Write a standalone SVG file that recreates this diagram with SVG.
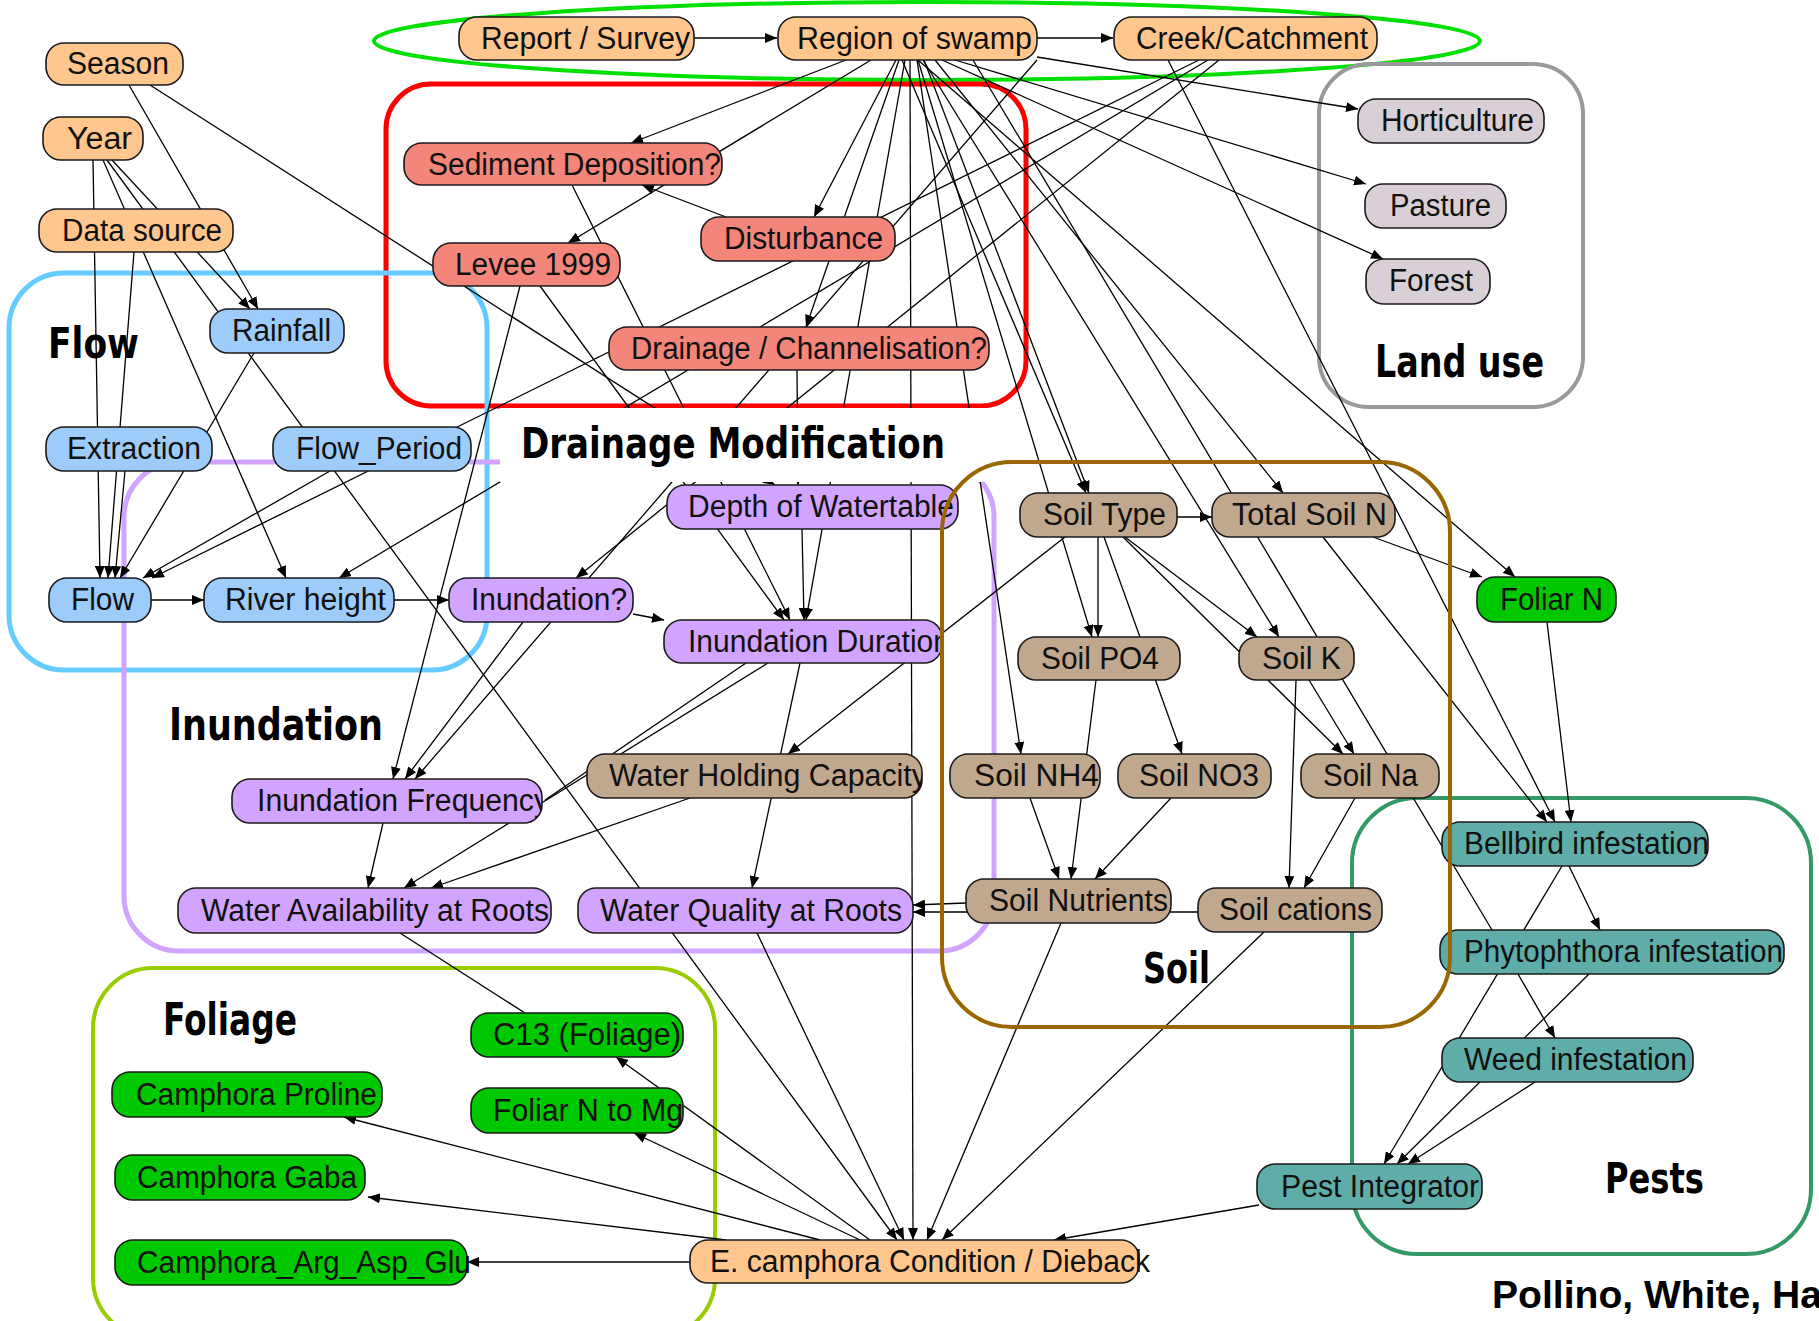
<svg xmlns="http://www.w3.org/2000/svg" width="1819" height="1321" viewBox="0 0 1819 1321">
<style>
.bg{fill:#ffffff}
.nd rect{stroke:#1a1a1a;stroke-width:1.6}
.nd text{font-family:"Liberation Sans",Arial,sans-serif;font-size:31px;fill:#111}
.or rect{fill:#FFC68E}
.rd rect{fill:#F3857A}
.bl rect{fill:#9DCBFA}
.pu rect{fill:#D0A4FF}
.br rect{fill:#BFA88E}
.gr rect{fill:#00C800}
.te rect{fill:#5FADA9}
.lu rect{fill:#D8D0D6}
.e line{stroke:#000;stroke-width:1.3;fill:none}
.grp{fill:none}
.lbl{font-family:"DejaVu Sans Condensed","DejaVu Sans",sans-serif;font-weight:bold;fill:#000}
.cap{font-family:"Liberation Sans",Arial,sans-serif;font-weight:bold;font-size:38px;fill:#000}
</style>
<defs>
<marker id="ar" markerUnits="userSpaceOnUse" markerWidth="12" markerHeight="10" refX="12" refY="5" orient="auto">
<path d="M0,0 L12,5 L0,10 z" fill="#000"/>
</marker>
<clipPath id="cID"><rect x="664" y="620" width="278" height="43" rx="18"/></clipPath>
<clipPath id="cIF"><rect x="232" y="779" width="310" height="44" rx="18"/></clipPath>
<clipPath id="cWH"><rect x="587" y="754" width="335" height="44" rx="18"/></clipPath>
</defs>
<rect class="bg" x="0" y="0" width="1819" height="1321"/>

<g id="groups">
<ellipse class="grp" cx="927" cy="41" rx="553" ry="39" stroke="#00E000" stroke-width="4"/>
<rect class="grp" x="386" y="84" width="640" height="322" rx="45" stroke="#FF0000" stroke-width="5"/>
<rect class="grp" x="9" y="273" width="478" height="397" rx="55" stroke="#66CCFF" stroke-width="5"/>
<rect class="grp" x="124" y="462" width="870" height="489" rx="55" stroke="#D0A4FF" stroke-width="5"/>
<rect class="grp" x="1319" y="64" width="264" height="343" rx="50" stroke="#999999" stroke-width="4"/>
<rect class="grp" x="93" y="968" width="622" height="370" rx="60" stroke="#99CC00" stroke-width="4"/>
<rect class="grp" x="1352" y="798" width="459" height="456" rx="65" stroke="#339966" stroke-width="4"/>
</g>

<g id="connectors" class="e">
<line x1="694" y1="38" x2="777" y2="38" marker-end="url(#ar)"/>
<line x1="1037" y1="38" x2="1113" y2="38" marker-end="url(#ar)"/>
<line x1="1037" y1="57" x2="1358" y2="109" marker-end="url(#ar)"/>
<line x1="955" y1="60" x2="1366" y2="184" marker-end="url(#ar)"/>
<line x1="942" y1="60" x2="1383" y2="259" marker-end="url(#ar)"/>
<line x1="846" y1="60" x2="631" y2="143" marker-end="url(#ar)"/>
<line x1="871" y1="60" x2="568" y2="243" marker-end="url(#ar)"/>
<line x1="896" y1="60" x2="814" y2="217" marker-end="url(#ar)"/>
<line x1="899" y1="60" x2="806" y2="327" marker-end="url(#ar)"/>
<line x1="905" y1="60" x2="806" y2="620" marker-end="url(#ar)"/>
<line x1="910" y1="60" x2="913" y2="1240" marker-end="url(#ar)"/>
<line x1="917" y1="60" x2="1021" y2="754" marker-end="url(#ar)"/>
<line x1="902" y1="60" x2="1086" y2="493" marker-end="url(#ar)"/>
<line x1="924" y1="60" x2="1089" y2="493" marker-end="url(#ar)"/>
<line x1="918" y1="60" x2="1092" y2="637" marker-end="url(#ar)"/>
<line x1="935" y1="60" x2="1283" y2="493" marker-end="url(#ar)"/>
<line x1="923" y1="60" x2="1279" y2="637" marker-end="url(#ar)"/>
<line x1="973" y1="60" x2="1492" y2="930"/>
<line x1="918" y1="60" x2="1515" y2="577" marker-end="url(#ar)"/>
<line x1="1037" y1="60" x2="415" y2="779" marker-end="url(#ar)"/>
<line x1="1199" y1="60" x2="152" y2="578" marker-end="url(#ar)"/>
<line x1="1208" y1="60" x2="339" y2="578" marker-end="url(#ar)"/>
<line x1="1219" y1="60" x2="576" y2="578" marker-end="url(#ar)"/>
<line x1="1168" y1="60" x2="1555" y2="822" marker-end="url(#ar)"/>
<line x1="726" y1="217" x2="642" y2="185" marker-end="url(#ar)"/>
<line x1="572" y1="185" x2="790" y2="620" marker-end="url(#ar)"/>
<line x1="540" y1="286" x2="784" y2="620" marker-end="url(#ar)"/>
<line x1="520" y1="286" x2="393" y2="779" marker-end="url(#ar)"/>
<line x1="797" y1="370" x2="798" y2="485" marker-end="url(#ar)"/>
<line x1="150" y1="85" x2="775" y2="485" marker-end="url(#ar)"/>
<line x1="129" y1="85" x2="258" y2="309" marker-end="url(#ar)"/>
<line x1="112" y1="160" x2="250" y2="309" marker-end="url(#ar)"/>
<line x1="93" y1="160" x2="100" y2="578" marker-end="url(#ar)"/>
<line x1="103" y1="160" x2="286" y2="578" marker-end="url(#ar)"/>
<line x1="107" y1="160" x2="897" y2="1240" marker-end="url(#ar)"/>
<line x1="134" y1="252" x2="108" y2="578" marker-end="url(#ar)"/>
<line x1="125" y1="471" x2="115" y2="578" marker-end="url(#ar)"/>
<line x1="254" y1="353" x2="120" y2="578" marker-end="url(#ar)"/>
<line x1="330" y1="471" x2="143" y2="578" marker-end="url(#ar)"/>
<line x1="151" y1="600" x2="204" y2="600" marker-end="url(#ar)"/>
<line x1="394" y1="600" x2="449" y2="600" marker-end="url(#ar)"/>
<line x1="633" y1="614" x2="664" y2="620" marker-end="url(#ar)"/>
<line x1="523" y1="622" x2="405" y2="779" marker-end="url(#ar)"/>
<line x1="802" y1="529" x2="804" y2="620" marker-end="url(#ar)"/>
<line x1="1065" y1="537" x2="788" y2="754" marker-end="url(#ar)"/>
<line x1="768" y1="663" x2="404" y2="888" marker-end="url(#ar)"/>
<line x1="746" y1="663" x2="545" y2="800"/>
<line x1="800" y1="663" x2="752" y2="888" marker-end="url(#ar)"/>
<line x1="690" y1="798" x2="431" y2="888" marker-end="url(#ar)"/>
<line x1="383" y1="823" x2="368" y2="888" marker-end="url(#ar)"/>
<line x1="400" y1="933" x2="525" y2="1013"/>
<line x1="757" y1="933" x2="904" y2="1240" marker-end="url(#ar)"/>
<line x1="966" y1="903" x2="913" y2="905" marker-end="url(#ar)"/>
<line x1="1198" y1="912" x2="913" y2="912" marker-end="url(#ar)"/>
<line x1="1061" y1="923" x2="927" y2="1240" marker-end="url(#ar)"/>
<line x1="1264" y1="932" x2="942" y2="1240" marker-end="url(#ar)"/>
<line x1="1259" y1="1205" x2="1054" y2="1240" marker-end="url(#ar)"/>
<line x1="870" y1="1240" x2="616" y2="1057" marker-end="url(#ar)"/>
<line x1="860" y1="1240" x2="634" y2="1133" marker-end="url(#ar)"/>
<line x1="820" y1="1240" x2="344" y2="1117" marker-end="url(#ar)"/>
<line x1="726" y1="1240" x2="368" y2="1197" marker-end="url(#ar)"/>
<line x1="690" y1="1262" x2="467" y2="1262" marker-end="url(#ar)"/>
<line x1="1177" y1="517" x2="1212" y2="517" marker-end="url(#ar)"/>
<line x1="1098" y1="537" x2="1098" y2="637" marker-end="url(#ar)"/>
<line x1="1104" y1="537" x2="1182" y2="754" marker-end="url(#ar)"/>
<line x1="1125" y1="537" x2="1257" y2="637" marker-end="url(#ar)"/>
<line x1="1123" y1="537" x2="1343" y2="754" marker-end="url(#ar)"/>
<line x1="1309" y1="680" x2="1354" y2="754" marker-end="url(#ar)"/>
<line x1="1296" y1="680" x2="1289" y2="888" marker-end="url(#ar)"/>
<line x1="1355" y1="798" x2="1304" y2="888" marker-end="url(#ar)"/>
<line x1="1096" y1="680" x2="1071" y2="879" marker-end="url(#ar)"/>
<line x1="1030" y1="798" x2="1059" y2="879" marker-end="url(#ar)"/>
<line x1="1171" y1="798" x2="1095" y2="879" marker-end="url(#ar)"/>
<line x1="1373" y1="537" x2="1482" y2="577" marker-end="url(#ar)"/>
<line x1="1323" y1="537" x2="1547" y2="822" marker-end="url(#ar)"/>
<line x1="1547" y1="622" x2="1571" y2="822" marker-end="url(#ar)"/>
<line x1="1569" y1="866" x2="1600" y2="930" marker-end="url(#ar)"/>
<line x1="1562" y1="866" x2="1384" y2="1164" marker-end="url(#ar)"/>
<line x1="1518" y1="974" x2="1555" y2="1038" marker-end="url(#ar)"/>
<line x1="1589" y1="974" x2="1397" y2="1164" marker-end="url(#ar)"/>
<line x1="1535" y1="1082" x2="1408" y2="1164" marker-end="url(#ar)"/>
</g>

<rect id="label-mask" x="500" y="408" width="488" height="74" fill="#ffffff"/>

<g id="n-season" class="nd or"><rect x="46" y="43" width="137" height="42" rx="18"/><text x="67" y="74" textLength="102" lengthAdjust="spacingAndGlyphs">Season</text></g>
<g id="n-year" class="nd or"><rect x="43" y="117" width="100" height="43" rx="18"/><text x="67" y="149" textLength="65" lengthAdjust="spacingAndGlyphs">Year</text></g>
<g id="n-datasource" class="nd or"><rect x="39" y="209" width="194" height="43" rx="18"/><text x="62" y="241" textLength="160" lengthAdjust="spacingAndGlyphs">Data source</text></g>
<g id="n-report" class="nd or"><rect x="459" y="17" width="235" height="43" rx="18"/><text x="481" y="49" textLength="209" lengthAdjust="spacingAndGlyphs">Report / Survey</text></g>
<g id="n-region" class="nd or"><rect x="778" y="17" width="259" height="43" rx="18"/><text x="797" y="49" textLength="235" lengthAdjust="spacingAndGlyphs">Region of swamp</text></g>
<g id="n-creek" class="nd or"><rect x="1114" y="17" width="263" height="43" rx="18"/><text x="1136" y="49" textLength="232" lengthAdjust="spacingAndGlyphs">Creek/Catchment</text></g>

<g id="n-sediment" class="nd rd"><rect x="404" y="143" width="318" height="42" rx="18"/><text x="428" y="175" textLength="293" lengthAdjust="spacingAndGlyphs">Sediment Deposition?</text></g>
<g id="n-levee" class="nd rd"><rect x="433" y="243" width="187" height="43" rx="18"/><text x="455" y="275" textLength="156" lengthAdjust="spacingAndGlyphs">Levee 1999</text></g>
<g id="n-disturbance" class="nd rd"><rect x="701" y="217" width="194" height="44" rx="18"/><text x="724" y="249" textLength="159" lengthAdjust="spacingAndGlyphs">Disturbance</text></g>
<g id="n-drainage" class="nd rd"><rect x="609" y="327" width="380" height="43" rx="18"/><text x="631" y="359" textLength="356" lengthAdjust="spacingAndGlyphs">Drainage / Channelisation?</text></g>

<g id="n-horticulture" class="nd lu"><rect x="1358" y="99" width="186" height="44" rx="18"/><text x="1381" y="131" textLength="153" lengthAdjust="spacingAndGlyphs">Horticulture</text></g>
<g id="n-pasture" class="nd lu"><rect x="1365" y="184" width="141" height="44" rx="18"/><text x="1390" y="216" textLength="101" lengthAdjust="spacingAndGlyphs">Pasture</text></g>
<g id="n-forest" class="nd lu"><rect x="1366" y="259" width="124" height="45" rx="18"/><text x="1389" y="291" textLength="84" lengthAdjust="spacingAndGlyphs">Forest</text></g>

<g id="n-rainfall" class="nd bl"><rect x="210" y="309" width="134" height="44" rx="18"/><text x="232" y="341" textLength="99" lengthAdjust="spacingAndGlyphs">Rainfall</text></g>
<g id="n-extraction" class="nd bl"><rect x="46" y="427" width="166" height="44" rx="18"/><text x="67" y="459" textLength="134" lengthAdjust="spacingAndGlyphs">Extraction</text></g>
<g id="n-flowperiod" class="nd bl"><rect x="273" y="427" width="198" height="44" rx="18"/><text x="296" y="459" textLength="166" lengthAdjust="spacingAndGlyphs">Flow_Period</text></g>
<g id="n-flow" class="nd bl"><rect x="49" y="578" width="102" height="44" rx="18"/><text x="71" y="610" textLength="63" lengthAdjust="spacingAndGlyphs">Flow</text></g>
<g id="n-riverheight" class="nd bl"><rect x="204" y="578" width="190" height="44" rx="18"/><text x="225" y="610" textLength="161" lengthAdjust="spacingAndGlyphs">River height</text></g>

<g id="n-inundation" class="nd pu"><rect x="449" y="578" width="184" height="44" rx="18"/><text x="471" y="610" textLength="156" lengthAdjust="spacingAndGlyphs">Inundation?</text></g>
<g id="n-depth" class="nd pu"><rect x="667" y="485" width="291" height="44" rx="18"/><text x="688" y="517" textLength="266" lengthAdjust="spacingAndGlyphs">Depth of Watertable</text></g>
<g id="n-induration" class="nd pu"><rect x="664" y="620" width="278" height="43" rx="18"/><text x="688" y="652" textLength="262" lengthAdjust="spacingAndGlyphs" clip-path="url(#cID)">Inundation Duration</text></g>
<g id="n-infrequency" class="nd pu"><rect x="232" y="779" width="310" height="44" rx="18"/><text x="257" y="811" textLength="292" lengthAdjust="spacingAndGlyphs" clip-path="url(#cIF)">Inundation Frequency</text></g>
<g id="n-wateravail" class="nd pu"><rect x="178" y="888" width="373" height="45" rx="18"/><text x="201" y="921" textLength="348" lengthAdjust="spacingAndGlyphs">Water Availability at Roots</text></g>
<g id="n-waterquality" class="nd pu"><rect x="578" y="888" width="335" height="45" rx="18"/><text x="600" y="921" textLength="302" lengthAdjust="spacingAndGlyphs">Water Quality at Roots</text></g>

<g id="n-whc" class="nd br"><rect x="587" y="754" width="335" height="44" rx="18"/><text x="609" y="786" textLength="318" lengthAdjust="spacingAndGlyphs" clip-path="url(#cWH)">Water Holding Capacity</text></g>
<g id="n-soiltype" class="nd br"><rect x="1020" y="493" width="157" height="44" rx="18"/><text x="1043" y="525" textLength="123" lengthAdjust="spacingAndGlyphs">Soil Type</text></g>
<g id="n-totalsoiln" class="nd br"><rect x="1212" y="493" width="183" height="44" rx="18"/><text x="1232" y="525" textLength="155" lengthAdjust="spacingAndGlyphs">Total Soil N</text></g>
<g id="n-soilpo4" class="nd br"><rect x="1018" y="637" width="162" height="43" rx="18"/><text x="1041" y="669" textLength="118" lengthAdjust="spacingAndGlyphs">Soil PO4</text></g>
<g id="n-soilk" class="nd br"><rect x="1239" y="637" width="115" height="43" rx="18"/><text x="1262" y="669" textLength="79" lengthAdjust="spacingAndGlyphs">Soil K</text></g>
<g id="n-soilnh4" class="nd br"><rect x="950" y="754" width="150" height="44" rx="18"/><text x="974" y="786" textLength="125" lengthAdjust="spacingAndGlyphs">Soil NH4</text></g>
<g id="n-soilno3" class="nd br"><rect x="1118" y="754" width="153" height="44" rx="18"/><text x="1139" y="786" textLength="120" lengthAdjust="spacingAndGlyphs">Soil NO3</text></g>
<g id="n-soilna" class="nd br"><rect x="1301" y="754" width="138" height="44" rx="18"/><text x="1323" y="786" textLength="95" lengthAdjust="spacingAndGlyphs">Soil Na</text></g>
<g id="n-soilnutrients" class="nd br"><rect x="966" y="879" width="205" height="44" rx="18"/><text x="989" y="911" textLength="179" lengthAdjust="spacingAndGlyphs">Soil Nutrients</text></g>
<g id="n-soilcations" class="nd br"><rect x="1198" y="888" width="184" height="44" rx="18"/><text x="1219" y="920" textLength="153" lengthAdjust="spacingAndGlyphs">Soil cations</text></g>

<g id="n-foliarn" class="nd gr"><rect x="1477" y="577" width="139" height="45" rx="18"/><text x="1500" y="610" textLength="103" lengthAdjust="spacingAndGlyphs">Foliar N</text></g>
<g id="n-c13" class="nd gr"><rect x="471" y="1013" width="212" height="44" rx="18"/><text x="493" y="1045" textLength="188" lengthAdjust="spacingAndGlyphs">C13 (Foliage)</text></g>
<g id="n-foliarntomg" class="nd gr"><rect x="471" y="1088" width="212" height="45" rx="18"/><text x="493" y="1121" textLength="190" lengthAdjust="spacingAndGlyphs">Foliar N to Mg</text></g>
<g id="n-proline" class="nd gr"><rect x="112" y="1072" width="270" height="45" rx="18"/><text x="136" y="1105" textLength="241" lengthAdjust="spacingAndGlyphs">Camphora Proline</text></g>
<g id="n-gaba" class="nd gr"><rect x="115" y="1155" width="250" height="45" rx="18"/><text x="137" y="1188" textLength="220" lengthAdjust="spacingAndGlyphs">Camphora Gaba</text></g>
<g id="n-arg" class="nd gr"><rect x="115" y="1240" width="352" height="45" rx="18"/><text x="137" y="1273" textLength="334" lengthAdjust="spacingAndGlyphs">Camphora_Arg_Asp_Glu</text></g>

<g id="n-bellbird" class="nd te"><rect x="1442" y="822" width="266" height="44" rx="18"/><text x="1464" y="854" textLength="245" lengthAdjust="spacingAndGlyphs">Bellbird infestation</text></g>
<g id="n-phytophthora" class="nd te"><rect x="1440" y="930" width="344" height="44" rx="18"/><text x="1464" y="962" textLength="319" lengthAdjust="spacingAndGlyphs">Phytophthora infestation</text></g>
<g id="n-weed" class="nd te"><rect x="1442" y="1038" width="251" height="44" rx="18"/><text x="1464" y="1070" textLength="223" lengthAdjust="spacingAndGlyphs">Weed infestation</text></g>
<g id="n-pest" class="nd te"><rect x="1257" y="1164" width="225" height="45" rx="18"/><text x="1281" y="1197" textLength="198" lengthAdjust="spacingAndGlyphs">Pest Integrator</text></g>

<g id="n-ecamphora" class="nd or"><rect x="690" y="1240" width="449" height="43" rx="18"/><text x="710" y="1272" textLength="440" lengthAdjust="spacingAndGlyphs">E. camphora Condition / Dieback</text></g>

<rect id="grp-soil" class="grp" x="942" y="462" width="508" height="565" rx="70" stroke="#996600" stroke-width="4"/>

<g id="labels">
<text class="lbl" x="48" y="358" font-size="42" textLength="91" lengthAdjust="spacingAndGlyphs">Flow</text>
<text class="lbl" x="521" y="458" font-size="43" textLength="424" lengthAdjust="spacingAndGlyphs">Drainage Modification</text>
<text class="lbl" x="1375" y="377" font-size="44" textLength="169" lengthAdjust="spacingAndGlyphs">Land use</text>
<text class="lbl" x="169" y="740" font-size="44" textLength="214" lengthAdjust="spacingAndGlyphs">Inundation</text>
<text class="lbl" x="1143" y="983" font-size="42" textLength="67" lengthAdjust="spacingAndGlyphs">Soil</text>
<text class="lbl" x="163" y="1035" font-size="44" textLength="134" lengthAdjust="spacingAndGlyphs">Foliage</text>
<text class="lbl" x="1605" y="1193" font-size="43" textLength="99" lengthAdjust="spacingAndGlyphs">Pests</text>
<text class="cap" x="1492" y="1308" textLength="330" lengthAdjust="spacingAndGlyphs">Pollino, White, Ha</text>
</g>
</svg>
